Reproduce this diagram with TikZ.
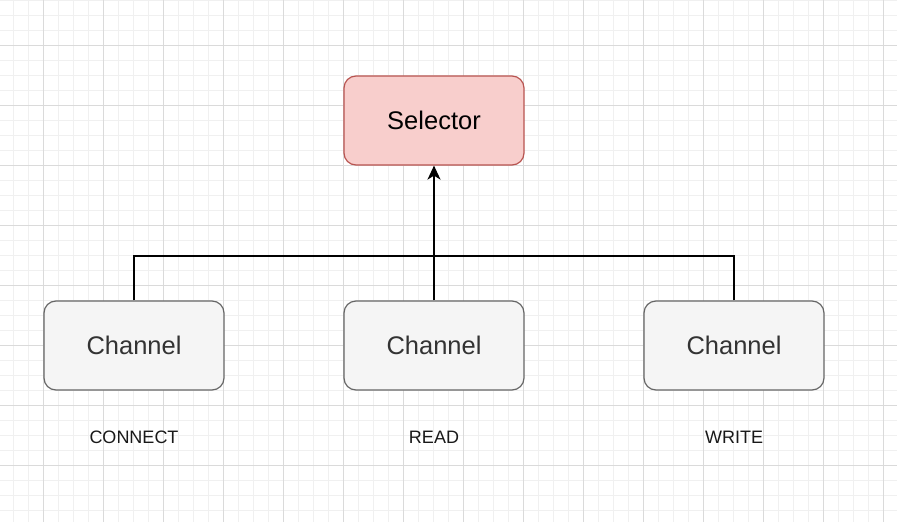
\documentclass[tikz,border=0pt]{standalone}
\usepackage{fontspec}
\setmainfont{Liberation Sans}
\usetikzlibrary{arrows.meta}
\definecolor{minorgrid}{HTML}{F0F0F0}
\definecolor{majorgrid}{HTML}{DADADA}
\definecolor{selfill}{HTML}{F8CECC}
\definecolor{seldraw}{HTML}{B85450}
\definecolor{chfill}{HTML}{F5F5F5}
\definecolor{chdraw}{HTML}{666666}
\definecolor{chtext}{HTML}{333333}
\tikzset{
  boxbase/.style={rounded corners=12pt, minimum width=180pt, minimum height=89pt, line width=1.2pt, inner sep=0pt, font=\fontsize{25.5}{30}\selectfont},
  selbox/.style={boxbase, fill=selfill, draw=seldraw, text=black},
  chbox/.style={boxbase, fill=chfill, draw=chdraw, text=chtext},
  lbl/.style={font=\fontsize{18}{22}\selectfont, text=black!90},
  conn/.style={line width=1.8pt, black},
}
\begin{document}
\begin{tikzpicture}[x=1pt,y=-1pt]
\useasboundingbox (0,0) rectangle (897,522);
\fill[white] (0,0) rectangle (897,522);
\foreach \i in {0,...,60} {
  \draw[minorgrid, line width=1pt] ({-2+15*\i},0) -- ({-2+15*\i},522);
}
\foreach \i in {0,...,35} {
  \draw[minorgrid, line width=1pt] (0,{15*\i}) -- (897,{15*\i});
}
\foreach \i in {0,...,14} {
  \draw[majorgrid, line width=1pt] ({43+60*\i},0) -- ({43+60*\i},522);
}
\foreach \i in {0,...,7} {
  \draw[majorgrid, line width=1pt] (0,{45+60*\i}) -- (897,{45+60*\i});
}
\node[selbox] (sel) at (434,120.5) {Selector};
\node[chbox] (c1) at (134,345.5) {Channel};
\node[chbox] (c2) at (434,345.5) {Channel};
\node[chbox] (c3) at (734,345.5) {Channel};
\node[lbl] (l1) at (134,437) {CONNECT};
\node[lbl] (l2) at (434,437) {READ};
\node[lbl] (l3) at (734,437) {WRITE};
\coordinate (j) at (434,256);
\draw[conn] (c1.north) |- (j);
\draw[conn] (c3.north) |- (j);
\draw[conn, -{Stealth[length=14pt,width=13pt,inset=4pt]}] (c2.north) -- (sel.south);
\end{tikzpicture}
\end{document}
